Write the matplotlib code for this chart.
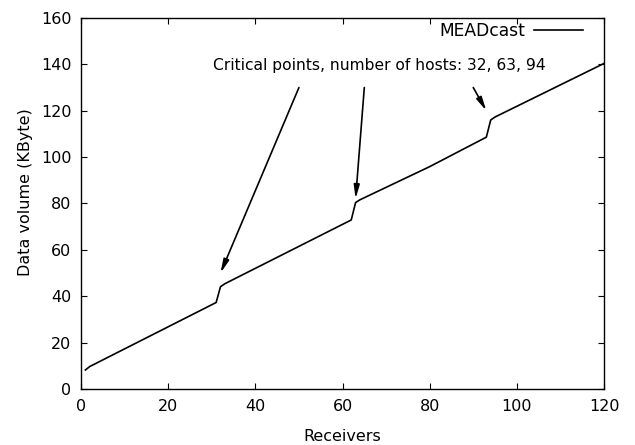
import numpy as np
import matplotlib
matplotlib.use('Agg')
import matplotlib.pyplot as plt

# receivers vs data volume
receivers = [1, 2, 31, 32, 33, 62, 63, 64, 80, 93, 94, 95, 120]
volume_kb = [8.2, 9.7, 37.3, 44.1, 45.4, 72.9, 80.4, 81.6, 95.9, 108.6, 116.0, 117.3, 140.4]

critical_hosts = [32, 63, 94]
arrow_tips = [(32, 50), (63, 82), (93, 120)]
arrow_tails = [(50, 130), (65, 130), (90, 130)]

xticks = np.arange(0, 121, 20)
yticks = np.arange(0, 161, 20)


def main():

	plt.rcParams['font.family'] = 'DejaVu Sans'
	plt.rcParams['font.size'] = 11.5

	fig = plt.figure(figsize=(6.35, 4.45), dpi=100)
	ax = fig.add_axes([0.1276, 0.1258, 0.8236, 0.8338])

	ax.plot(receivers, volume_kb, color='black', lw=1.2, label='MEADcast')

	label = 'Critical points, number of hosts: ' + ', '.join(str(h) for h in critical_hosts)
	ax.text(30.2, 139.7, label, ha='left', va='center', fontsize=11.2)

	for tip, tail in zip(arrow_tips, arrow_tails):
		ax.annotate('', xy=tip, xytext=tail,
			arrowprops=dict(arrowstyle='-|>,head_length=0.8,head_width=0.17', color='black', lw=1.2,
				mutation_scale=10, shrinkA=0, shrinkB=0))

	ax.set_xlim(0, 120)
	ax.set_ylim(0, 160)
	ax.set_xticks(xticks)
	ax.set_yticks(yticks)
	ax.tick_params(direction='in', top=True, right=True, length=4, width=0.8)
	ax.tick_params(axis='x', pad=7)
	ax.tick_params(axis='y', pad=7)
	for sp in ax.spines.values():
		sp.set_linewidth(1.0)

	ax.set_xlabel('Receivers', labelpad=11)
	ax.set_ylabel('Data volume (KByte)')
	ax.yaxis.set_label_coords(-0.092, 0.531)

	ax.legend(loc='upper right', bbox_to_anchor=(0.960, 0.990), frameon=False, markerfirst=False,
		handlelength=2.87, handletextpad=0.53, borderaxespad=0, borderpad=0, fontsize=12.3)

	fig.savefig('out.png', dpi=100)

	return


if __name__ == "__main__": main()
